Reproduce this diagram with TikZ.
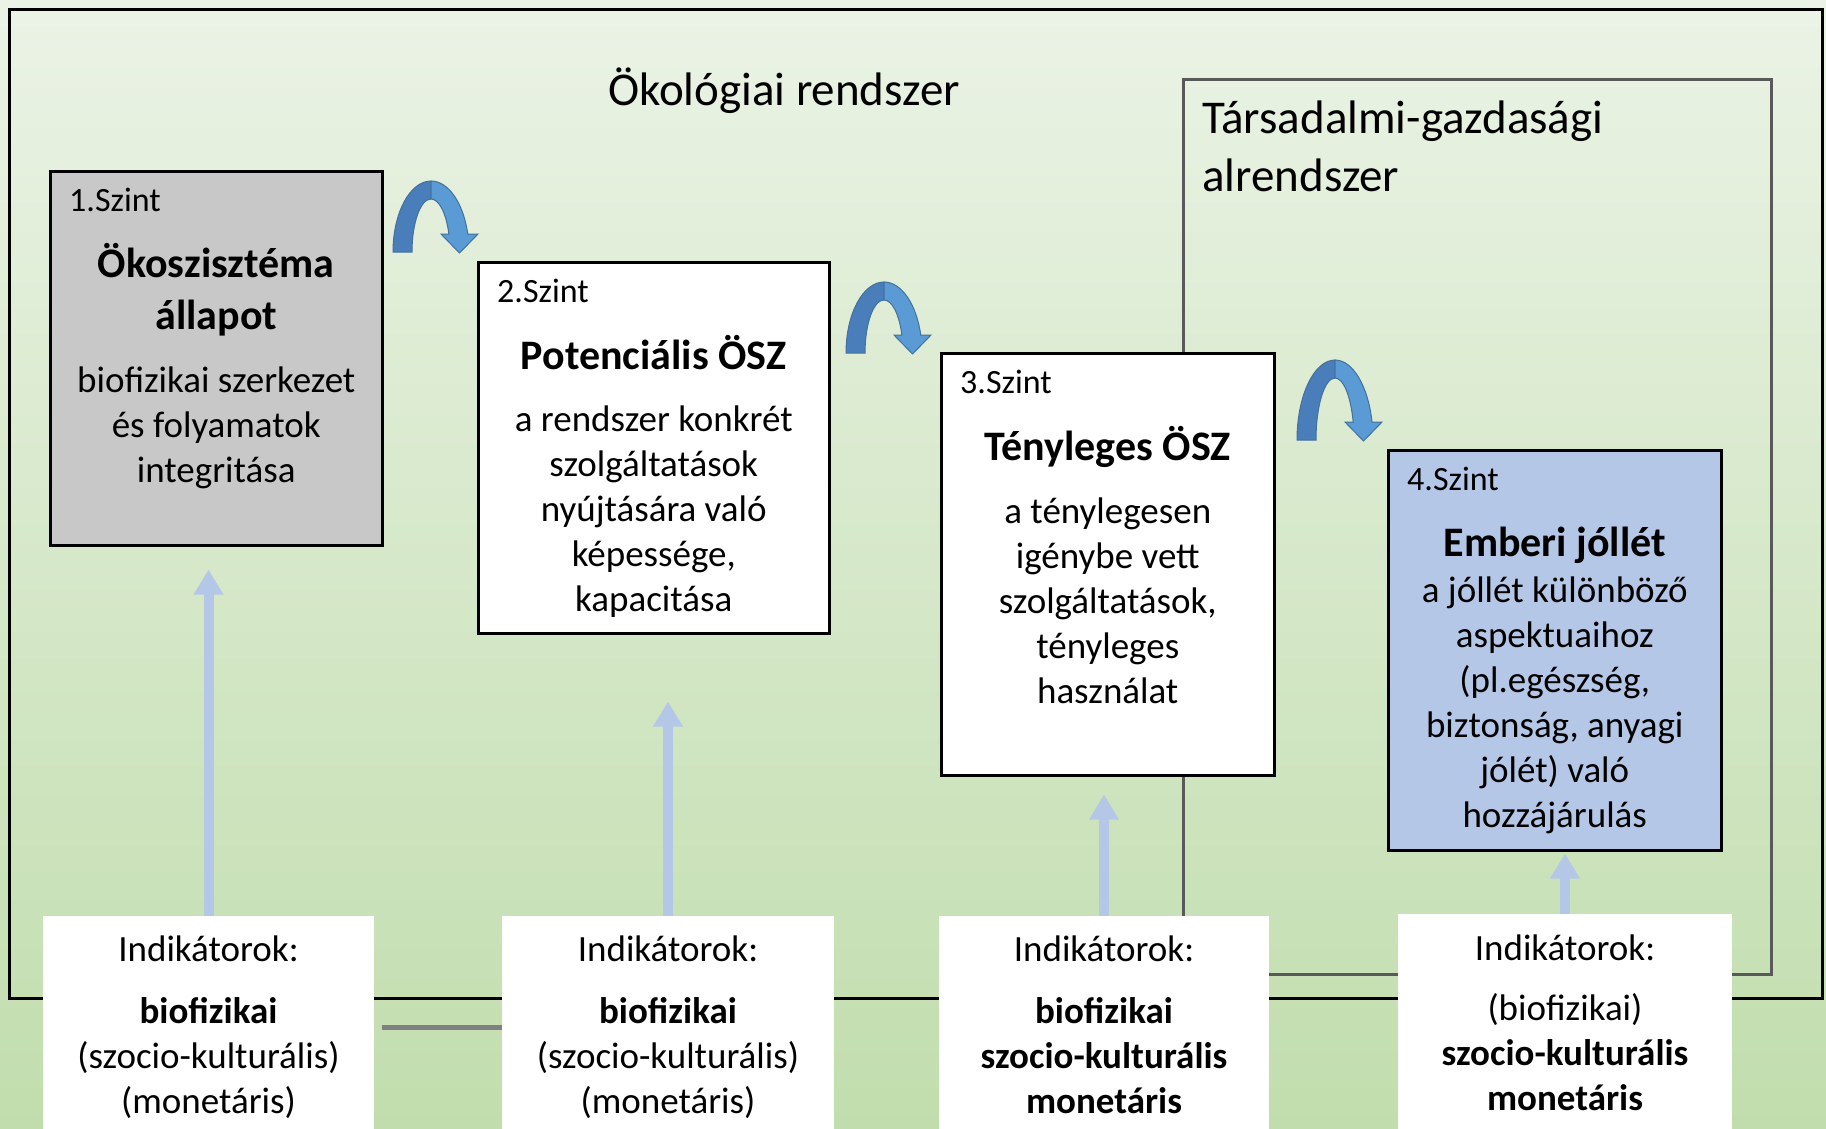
\documentclass[tikz,border=0pt]{standalone}
\usepackage{fontspec}
\setmainfont{Carlito}
\usepackage{tikz}
\usetikzlibrary{positioning, arrows.meta}
\tikzstyle{sheet} = [x = 1pt, y = -1pt]
\definecolor{bgTop}{RGB}{235,243,230}
\definecolor{bgMid}{RGB}{211,231,198}
\definecolor{bgBottom}{RGB}{193,221,173}
\definecolor{frameGray}{RGB}{89,89,89}
\definecolor{stateGray}{RGB}{200,200,200}
\definecolor{welfareBlue}{RGB}{180,199,231}
\definecolor{turnDark}{RGB}{74,126,187}
\definecolor{turnLight}{RGB}{91,155,213}
\definecolor{turnEdge}{RGB}{65,113,156}
\newcommand{\bodySize}{\fontsize{37}{45}\selectfont}
\newcommand{\titleSize}{\fontsize{42}{52}\selectfont\bfseries}
\newcommand{\levelSize}{\fontsize{34}{40}\selectfont}
\newcommand{\headSize}{\fontsize{47}{58}\selectfont}
\tikzstyle{systemFrame} = [line width=3pt]
\tikzstyle{levelBox} = [draw=black, line width=2.5pt, anchor=north west, inner sep=0pt]
\tikzstyle{levelLabel} = [font=\levelSize, anchor=base west, inner sep=0pt]
\tikzstyle{levelTitle} = [font=\titleSize, align=center, inner sep=0pt]
\tikzstyle{levelText} = [font=\bodySize, align=center, inner sep=0pt]
\tikzstyle{indicatorBox} = [fill=white, minimum height=222pt, font=\bodySize, align=center, inner sep=0pt]
\tikzstyle{indicatorArrow} = [welfareBlue, line width=10pt, -{Triangle[width=28pt, length=25pt]}]
\tikzstyle{leftoverLine} = [color=gray, line width=5pt]
\newcommand{\turnArrow}[3]{
  \pgfmathsetmacro{\innerH}{#3 - 18}
  \pgfmathsetmacro{\outerEnd}{360 - asin(18/#3)}
  \pgfmathsetmacro{\innerEnd}{360 - asin(18/\innerH)}
  \filldraw [turnDark, draw=turnEdge, line width=1pt] (#1 - 38, #2) arc[start angle=180, end angle=270, x radius=38, y radius=#3] -- ++(0,18) arc[start angle=270, end angle=180, x radius=19, y radius=\innerH] -- cycle;
  \filldraw [turnLight, draw=turnEdge, line width=1pt] (#1, #2 - #3) arc[start angle=270, end angle=\outerEnd, x radius=38, y radius=#3] -- (#1 + 47, #2 - 18) -- (#1 + 28.5, #2 + 1) -- (#1 + 10, #2 - 18) -- ([shift={(\innerEnd:19 and \innerH)}] #1, #2) arc[start angle=\innerEnd, end angle=270, x radius=19, y radius=\innerH] -- cycle;
}
\begin{document}
\begin{tikzpicture}[sheet]
  \path[clip, use as bounding box] (0,0) rectangle (1826,1128);
  \shade[top color=bgTop, middle color=bgMid, bottom color=bgBottom] (0,0) rectangle (1826,1128);
  \draw[systemFrame] (9,9) rectangle (1822,998);
  \draw[systemFrame, frameGray] (1183,79) rectangle (1771,974);

  \node[font=\headSize] (ecoTitle) at (784,91) {Ökológiai rendszer};
  \node[font=\headSize, align=left, anchor=north west, inner sep=0pt] (socioTitle) at (1202,101) {Társadalmi-gazdasági\\alrendszer};

  \turnArrow{431}{252}{71}
  \turnArrow{884}{353}{71}
  \turnArrow{1335}{440}{80}

  % levels
  \node[levelBox, fill=stateGray, minimum width=332pt, minimum height=374pt] (szint1) at (49,170) {};
  \node[levelLabel] (label1) at ([xshift=20pt, yshift=-41pt]szint1.north west) {1.Szint};
  \node[levelTitle, below=73pt of szint1.north] (title1) {Ökoszisztéma\\állapot};
  \node[levelText, below=197pt of szint1.north] (text1) {biofizikai szerkezet\\és folyamatok\\integritása};

  \node[levelBox, fill=white, minimum width=351pt, minimum height=371pt] (szint2) at (477,261) {};
  \node[levelLabel] (label2) at ([xshift=20pt, yshift=-41pt]szint2.north west) {2.Szint};
  \node[levelTitle, below=74pt of szint2.north] (title2) {Potenciális ÖSZ};
  \node[levelText, below=145pt of szint2.north] (text2) {a rendszer konkrét\\szolgáltatások\\nyújtására való\\képessége,\\kapacitása};

  \node[levelBox, fill=white, minimum width=333pt, minimum height=422pt] (szint3) at (940,352) {};
  \node[levelLabel] (label3) at ([xshift=20pt, yshift=-41pt]szint3.north west) {3.Szint};
  \node[levelTitle, below=74pt of szint3.north] (title3) {Tényleges ÖSZ};
  \node[levelText, below=146pt of szint3.north] (text3) {a ténylegesen\\igénybe vett\\szolgáltatások,\\tényleges\\használat};

  \node[levelBox, fill=welfareBlue, minimum width=333pt, minimum height=400pt] (szint4) at (1387,449) {};
  \node[levelLabel] (label4) at ([xshift=20pt, yshift=-41pt]szint4.north west) {4.Szint};
  \node[levelTitle, below=78pt of szint4.north] (title4) {Emberi jóllét};
  \node[levelText, below=128pt of szint4.north] (text4) {a jóllét különböző\\aspektuaihoz\\(pl.egészség,\\biztonság, anyagi\\jólét) való\\hozzájárulás};

  % indicators
  \node[indicatorBox, minimum width=331pt] (ind1) at (208.5,1027) {Indikátorok:\\[17pt]\textbf{biofizikai}\\(szocio-kulturális)\\(monetáris)};
  \node[indicatorBox, minimum width=332pt] (ind2) at (668,1027) {Indikátorok:\\[17pt]\textbf{biofizikai}\\(szocio-kulturális)\\(monetáris)};
  \node[indicatorBox, minimum width=330pt] (ind3) at (1104,1027) {Indikátorok:\\[17pt]\textbf{biofizikai}\\\textbf{szocio-kulturális}\\\textbf{monetáris}\vphantom{(}};
  \node[indicatorBox, minimum width=334pt] (ind4) at (1565,1025) {Indikátorok:\\[15pt](biofizikai)\\\textbf{szocio-kulturális}\\\textbf{monetáris}\vphantom{(}};

  \draw[leftoverLine, shorten <=8pt] (ind1.east) -- (ind2.west);
  \draw[indicatorArrow, shorten >=23pt] (ind1.north) -- (ind1.north |- szint1.south);
  \draw[indicatorArrow, shorten >=67pt] (ind2.north) -- (ind2.north |- szint2.south);
  \draw[indicatorArrow, shorten >=18pt] (ind3.north) -- (ind3.north |- szint3.south);
  \draw[indicatorArrow, shorten >=2pt] (ind4.north) -- (ind4.north |- szint4.south);
\end{tikzpicture}
\end{document}
